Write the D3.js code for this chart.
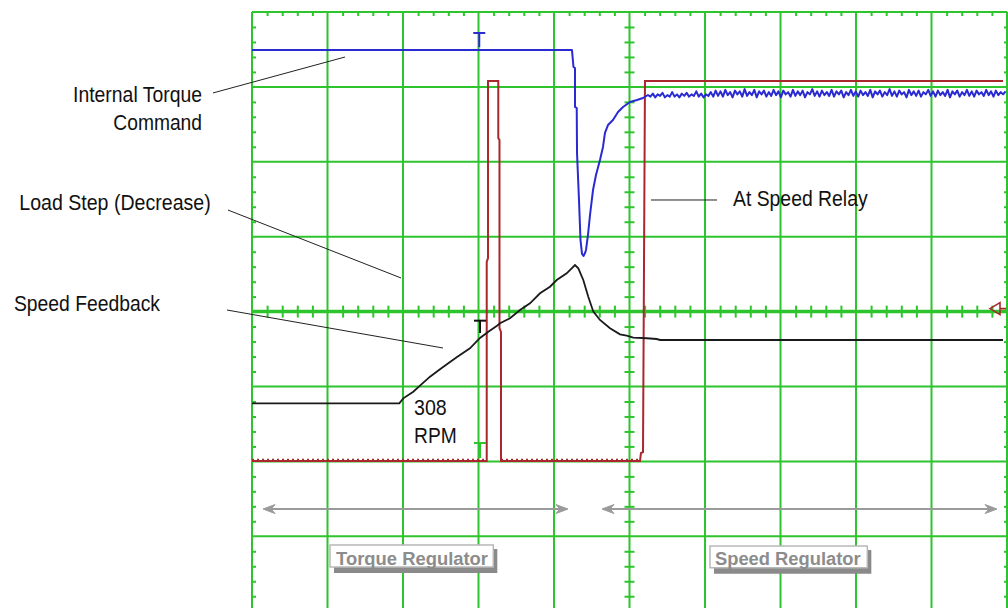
<!DOCTYPE html>
<html><head><meta charset="utf-8">
<script src="https://cdn.jsdelivr.net/npm/d3@7"></script>
<style>html,body{margin:0;padding:0;background:#fff;}svg{display:block;}</style>
</head><body>
<svg id="c" width="1008" height="608"></svg>
<script>
// ---- Data (screen divisions: x 0..10, y -4..4, centre = 0) ----
const gridX = [0,1,2,3,4,5,6,7,8,9,10];
const gridY = [-4,-3,-2,-1,0,1,2,3,4];
const minorStep = 0.2;

// Internal Torque Command (blue) – main shape
const torqueCommand = [
 [0,3.493],[4.238,3.493],[4.258,3.266],[4.278,3.252],[4.278,2.732],[4.301,2.718],[4.305,2.118],
 [4.331,1.490],[4.351,0.956],[4.371,0.770],[4.391,0.743],[4.411,0.783],[4.424,0.823],[4.450,1.023],
 [4.477,1.290],[4.517,1.624],[4.556,1.824],[4.609,2.024],[4.649,2.198],[4.675,2.385],[4.715,2.491],
 [4.781,2.558],[4.848,2.665],[4.914,2.732],[5.007,2.799],[5.099,2.825],[5.179,2.852],[5.245,2.892]
];
// Internal Torque Command – noisy steady state samples
const torqueTailStart = 5.277;
const torqueTailStep = 0.032;
const torqueTail = [
 2.87,2.91,2.86,2.90,2.88,2.92,2.86,2.89,2.87,2.93,2.87,2.90,2.86,2.91,2.88,2.92,2.87,2.90,2.88,2.94,2.87,2.91,2.86,2.90,2.88,2.93,2.87,
 2.95,2.88,2.94,2.87,2.96,2.89,2.93,2.86,2.95,2.90,2.94,2.87,2.97,2.88,2.93,2.89,2.96,2.86,2.94,2.90,2.95,2.87,2.93,2.88,2.96,2.89,2.94,2.86,2.95,2.90,
 2.93,2.87,2.96,2.88,2.94,2.89,2.95,2.86,2.93,2.90,2.97,2.88,2.94,2.87,2.95,2.89,2.93,2.88,2.96,2.87,2.94,2.90,2.95,2.86,2.93,2.89,2.96,2.88,2.94,2.87,
 2.95,2.89,2.93,2.88,2.96,2.86,2.94,2.90,2.95,2.87,2.93,2.89,2.97,2.88,2.94,2.87,2.95,2.90,2.93,2.86,2.96,2.89,2.94,2.88,2.95,2.87,2.93,2.90,2.96,2.88,
 2.94,2.87,2.95,2.89,2.93,2.88,2.96,2.86,2.94,2.90,2.95,2.87,2.93,2.89,2.96,2.88,2.94,2.87,2.95,2.90,2.93,2.88,2.96,2.89,2.94,2.87,2.95,2.89,2.93,2.90,2.94
];
// Speed Feedback (black)
const speedFeedback = [
 [0,-1.224],[1.951,-1.224],[2.004,-1.158],[2.136,-1.069],[2.225,-0.989],[2.358,-0.869],[2.490,-0.770],
 [2.600,-0.690],[2.711,-0.610],[2.887,-0.490],[3.020,-0.352],[3.130,-0.268],[3.241,-0.192],[3.285,-0.156],
 [3.417,-0.089],[3.550,0.021],[3.682,0.111],[3.815,0.244],[3.947,0.332],[4.036,0.422],[4.168,0.511],
 [4.278,0.622],[4.322,0.578],[4.388,0.422],[4.454,0.199],[4.521,-0.001],[4.609,-0.112],[4.742,-0.223],
 [4.874,-0.303],[4.963,-0.322],[5.050,-0.348],[5.228,-0.356],[5.360,-0.366],[5.404,-0.379],[9.947,-0.379]
];
// At Speed Relay (red)
const relayLow = -1.995;
const atSpeedRelay = [
 [0,-1.995],[3.109,-1.995],[3.109,0.662],[3.126,0.716],[3.126,3.079],[3.262,3.079],[3.262,2.318],
 [3.278,2.291],[3.278,-0.219],[3.298,-0.272],[3.298,-1.995],[5.139,-1.995],[5.152,-1.888],[5.179,-1.875],
 [5.205,3.079],[9.947,3.079]
];
// Trace markers "T": [x, top, bottom]
const tMarkers = [
 {x:3.010, top:3.720, bottom:3.530, color:"#2a2ad2"},
 {x:3.020, top:-0.121, bottom:-0.286, color:"#111"},
 {x:3.020, top:-1.754, bottom:-1.955, color:"#2ec42e"}
];
const triggerLevel = 0.04;

// Annotations
const leaders = [
 [[-0.517,2.919],[1.232,3.399]],
 [[-0.318,1.356],[1.974,0.449]],
 [[-0.331,0.021],[2.530,-0.486]],
 [[5.285,1.490],[6.159,1.490]]
];
const labels = [
 {text:"Internal Torque", x:-0.662, y:2.798, anchor:"end", len:129},
 {text:"Command", x:-0.662, y:2.425, anchor:"end", len:88.7},
 {text:"Load Step (Decrease)", x:-0.547, y:1.356, anchor:"end", len:191.4},
 {text:"Speed Feedback", x:-1.219, y:0.008, anchor:"end", len:146},
 {text:"At Speed Relay", x:6.371, y:1.410, anchor:"start", len:134.6},
 {text:"308", x:2.146, y:-1.387, anchor:"start", len:32.7},
 {text:"RPM", x:2.146, y:-1.754, anchor:"start", len:42.7}
];
const spans = [
 {x0:0.146, x1:4.185, y:-2.636},
 {x0:4.636, x1:9.868, y:-2.636}
];
const regulators = [
 {text:"Torque Regulator", x0:1.033, x1:3.196, top:-3.116, bottom:-3.410, tx:1.113, ty:-3.385, len:152},
 {text:"Speed Regulator", x0:6.066, x1:8.150, top:-3.130, bottom:-3.420, tx:6.132, ty:-3.385, len:145.7}
];

// ---- Drawing ----
const svg = d3.select("#c");
const x = d3.scaleLinear().domain([0,10]).range([252,1007]);
const y = d3.scaleLinear().domain([-4,4]).range([611.2,12]);
const GREEN = "#2ec42e";
const minors = d3.range(0, 10 + 1e-9, minorStep).filter(v => Math.abs(v - Math.round(v)) > 1e-6);
const minorsY = d3.range(-4, 4 + 1e-9, minorStep).filter(v => Math.abs(v - Math.round(v)) > 1e-6);

const grid = svg.append("g");
grid.selectAll("line.v").data(gridX).join("line")
  .attr("x1", d => x(d)).attr("x2", d => x(d)).attr("y1", y(4)).attr("y2", y(-4))
  .attr("stroke", GREEN).attr("stroke-width", 2);
grid.selectAll("line.h").data(gridY).join("line")
  .attr("y1", d => y(d)).attr("y2", d => y(d)).attr("x1", x(0)).attr("x2", x(10))
  .attr("stroke", GREEN).attr("stroke-width", d => d === 0 ? 3.5 : 2);

function tickAxis(axis, tf) {
  const g = svg.append("g").attr("transform", tf).call(axis);
  g.select(".domain").remove();
  g.selectAll(".tick line").attr("stroke", GREEN).attr("stroke-width", 2);
  g.selectAll(".tick text").remove();
}
// top border, ticks down
tickAxis(d3.axisBottom(x).tickValues(minors).tickSize(4).tickFormat(""), `translate(0,${y(4)})`);
// centre horizontal, ticks both ways
tickAxis(d3.axisBottom(x).tickValues(minors).tickSize(6).tickFormat(""), `translate(0,${y(0)})`);
tickAxis(d3.axisTop(x).tickValues(minors).tickSize(6).tickFormat(""), `translate(0,${y(0)})`);
// left border ticks right
tickAxis(d3.axisRight(y).tickValues(minorsY).tickSize(4).tickFormat(""), `translate(${x(0)},0)`);
// right border ticks left
tickAxis(d3.axisLeft(y).tickValues(minorsY).tickSize(3).tickFormat(""), `translate(${x(10)},0)`);
// centre vertical ticks both ways
tickAxis(d3.axisLeft(y).tickValues(minorsY).tickSize(5).tickFormat(""), `translate(${x(5)},0)`);
tickAxis(d3.axisRight(y).tickValues(minorsY).tickSize(5).tickFormat(""), `translate(${x(5)},0)`);

const line = d3.line().x(d => x(d[0])).y(d => y(d[1]));

// red relay
svg.append("path").attr("d", line(atSpeedRelay)).attr("fill","none")
  .attr("stroke","#a8282e").attr("stroke-width",2).attr("stroke-linejoin","miter");
// wavy texture on low level segments
const lowSegs = [];
for (let i = 0; i < atSpeedRelay.length - 1; i++) {
  const a = atSpeedRelay[i], b = atSpeedRelay[i+1];
  if (a[1] === relayLow && b[1] === relayLow) lowSegs.push([a, b]);
}
svg.selectAll("path.tex").data(lowSegs).join("path")
  .attr("d", d => line(d)).attr("fill","none").attr("stroke","#a8282e")
  .attr("stroke-width",1.4).attr("stroke-dasharray","2 3").attr("transform","translate(0,-1.5)");

// black speed
svg.append("path").attr("d", line(speedFeedback)).attr("fill","none")
  .attr("stroke","#1a1a1a").attr("stroke-width",1.8);

// blue torque
const torqueAll = torqueCommand.concat(torqueTail.map((v,i) => [torqueTailStart + i*torqueTailStep, v]));
svg.append("path").attr("d", line(torqueAll)).attr("fill","none")
  .attr("stroke","#2a2ad2").attr("stroke-width",2).attr("stroke-linejoin","round");

// T markers
tMarkers.forEach(m => {
  const g = svg.append("g").attr("stroke", m.color).attr("stroke-width", 2);
  g.append("line").attr("x1", x(m.x) - 6).attr("x2", x(m.x) + 6).attr("y1", y(m.top)).attr("y2", y(m.top));
  g.append("line").attr("x1", x(m.x)).attr("x2", x(m.x)).attr("y1", y(m.top)).attr("y2", y(m.bottom));
});

// trigger level marker
{
  const tx = x(10) - 17, ty = y(triggerLevel);
  svg.append("path").attr("d", `M${tx},${ty} L${tx+10},${ty-6} L${tx+10},${ty+6} Z M${tx+10},${ty} L${tx+16},${ty}`)
    .attr("fill","none").attr("stroke","#a8282e").attr("stroke-width",1.6);
}

// leader lines
svg.selectAll("line.lead").data(leaders).join("line")
  .attr("x1", d => x(d[0][0])).attr("y1", d => y(d[0][1]))
  .attr("x2", d => x(d[1][0])).attr("y2", d => y(d[1][1]))
  .attr("stroke","#222").attr("stroke-width",1);

// labels
svg.selectAll("text.lab").data(labels).join("text")
  .attr("x", d => x(d.x)).attr("y", d => y(d.y))
  .attr("text-anchor", d => d.anchor)
  .attr("textLength", d => d.len).attr("lengthAdjust","spacingAndGlyphs")
  .attr("font-family","'Liberation Sans', Arial, Helvetica, sans-serif")
  .attr("font-size", 21.5).attr("fill","#111")
  .text(d => d.text);

// double-headed span arrows
const GRAY = "#9a9a9a";
spans.forEach(s => {
  const x0 = x(s.x0), x1 = x(s.x1), yy = y(s.y);
  svg.append("line").attr("x1", x0 + 4).attr("x2", x1 - 4).attr("y1", yy).attr("y2", yy)
    .attr("stroke", GRAY).attr("stroke-width", 2);
  const head = (tip, dir) => `M${tip},${yy} L${tip + dir*12},${yy-4.5} L${tip + dir*8},${yy} L${tip + dir*12},${yy+4.5} Z`;
  svg.append("path").attr("d", head(x0, 1) + head(x1, -1)).attr("fill", GRAY).attr("stroke", GRAY).attr("stroke-width",1);
});

// regulator boxes
regulators.forEach(r => {
  const bx = x(r.x0), by = y(r.top), bw = x(r.x1) - x(r.x0), bh = y(r.bottom) - y(r.top);
  svg.append("rect").attr("x", bx + 4).attr("y", by + 4).attr("width", bw).attr("height", bh + 2)
    .attr("fill", "#8a8a8a");
  svg.append("rect").attr("x", bx).attr("y", by).attr("width", bw).attr("height", bh)
    .attr("fill", "#fff").attr("stroke", "#b8b8b8").attr("stroke-width", 1.5);
  svg.append("text").attr("x", x(r.tx)).attr("y", y(r.ty))
    .attr("textLength", r.len).attr("lengthAdjust","spacingAndGlyphs")
    .attr("font-family","'Liberation Sans', Arial, sans-serif").attr("font-weight","bold")
    .attr("font-size", 18).attr("fill", "#8c8c8c")
    .text(r.text);
});
</script>
</body></html>
